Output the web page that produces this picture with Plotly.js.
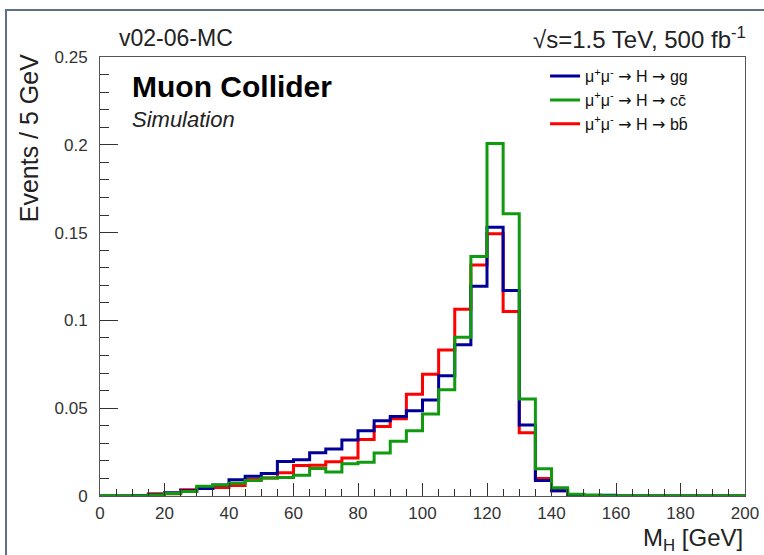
<!DOCTYPE html>
<html>
<head>
<meta charset="utf-8">
<script src="https://cdn.plot.ly/plotly-3.0.1.min.js"></script>
<style>
  html, body { margin: 0; padding: 0; background: #ffffff; }
  #chart { width: 764px; height: 555px; position: absolute; left: 0; top: 0; }
  #frame { position: absolute; left: 5px; top: 9px; width: 900px; height: 700px;
           border-left: 2px solid #5f6f86; border-top: 2px solid #5f6f86; pointer-events: none; }
</style>
</head>
<body>
<div id="chart"></div>
<div id="frame"></div>
<script>
// Bin low edges (GeV), 5 GeV bins from 0 to 200
const binLow = [0,5,10,15,20,25,30,35,40,45,50,55,60,65,70,75,80,85,90,95,
                100,105,110,115,120,125,130,135,140,145,150,155,160,165,170,175,180,185,190,195];
const xMax = 200;

// mu+mu- -> H -> gg (blue)
const hGG = [0,0,0.0003,0.0008,0.0018,0.0030,0.0042,0.0063,0.0092,0.0112,
             0.0128,0.0196,0.0206,0.0247,0.0268,0.0319,0.0372,0.0429,0.0453,0.0486,
             0.0547,0.0685,0.0862,0.1195,0.1531,0.1170,0.0405,0.0088,0.0030,0.0005,
             0.0002,0.0004,0,0,0,0,0,0,0,0];
// mu+mu- -> H -> cc (green)
const hCC = [0.0002,0.0002,0.0002,0.0006,0.0014,0.0025,0.0055,0.0063,0.0072,0.0088,
             0.0102,0.0105,0.0118,0.0156,0.0137,0.0183,0.0192,0.0245,0.0312,0.0372,
             0.0467,0.0605,0.0904,0.1364,0.2007,0.1607,0.0552,0.0155,0.0047,0.0010,
             0.0005,0.0002,0.0002,0.0002,0.0002,0.0002,0.0002,0.0002,0.0002,0.0002];
// mu+mu- -> H -> bb (red)
const hBB = [0,0,0,0.0013,0.0013,0.0035,0.0045,0.0048,0.0060,0.0095,
             0.0103,0.0133,0.0173,0.0175,0.0195,0.0216,0.0322,0.0396,0.0440,0.0580,
             0.0694,0.0832,0.1063,0.1315,0.1493,0.1050,0.0360,0.0100,0.0030,0.0005,
             0,0,0,0,0,0,0,0,0,0];

const ARR = "<span style='font-family:DejaVu Sans'>→</span>";
const labels = {
  gg: "μ<sup>+</sup>μ<sup>-</sup> " + ARR + " H " + ARR + " gg",
  cc: "μ<sup>+</sup>μ<sup>-</sup> " + ARR + " H " + ARR + " cc\u0304",
  bb: "μ<sup>+</sup>μ<sup>-</sup> " + ARR + " H " + ARR + " bb\u0304"
};
const colors = { gg: "#000099", cc: "#109a10", bb: "#ff0000" };

function stepTrace(vals, name, color, rank) {
  const xs = binLow.concat([xMax]);
  const ys = vals.concat([vals[vals.length - 1]]);
  return {
    type: "scatter", mode: "lines", x: xs, y: ys, name: name,
    line: { shape: "hv", color: color, width: 3 },
    legendrank: rank, hoverinfo: "skip"
  };
}

const traces = [
  stepTrace(hBB, labels.bb, colors.bb, 3),
  stepTrace(hGG, labels.gg, colors.gg, 1),
  stepTrace(hCC, labels.cc, colors.cc, 2)
];

const FONT = "Liberation Sans, Arial, Helvetica, sans-serif";
const L = 100, R = 19, T = 57, B = 59;

const layout = {
  width: 764, height: 555,
  margin: { l: L, r: R, t: T, b: B, pad: 0 },
  paper_bgcolor: "#ffffff", plot_bgcolor: "#ffffff",
  font: { family: FONT, color: "#222222", size: 17 },
  showlegend: true,
  legend: {
    x: 0.69, y: 0.995, xanchor: "left", yanchor: "top",
    bgcolor: "rgba(0,0,0,0)", borderwidth: 0,
    font: { family: FONT, size: 16, color: "#111111" },
    itemwidth: 30
  },
  xaxis: {
    range: [0, 200], dtick: 20, tick0: 0,
    showgrid: false, zeroline: false,
    showline: true, mirror: true, linecolor: "#555555", linewidth: 1,
    ticks: "inside", ticklen: 13, tickcolor: "#333333", tickwidth: 1,
    minor: { dtick: 5, ticks: "inside", ticklen: 7, tickcolor: "#333333", tickwidth: 1, showgrid: false },
    tickfont: { family: FONT, size: 17, color: "#333333" },
    ticklabelstandoff: 2
  },
  yaxis: {
    range: [0, 0.25], dtick: 0.05, tick0: 0,
    showgrid: false, zeroline: false,
    showline: true, mirror: true, linecolor: "#555555", linewidth: 1,
    ticks: "inside", ticklen: 18, tickcolor: "#333333", tickwidth: 1,
    minor: { dtick: 0.01, ticks: "inside", ticklen: 9, tickcolor: "#333333", tickwidth: 1, showgrid: false },
    tickfont: { family: FONT, size: 17, color: "#333333" },
    ticklabelstandoff: 8
  },
  annotations: [
    { text: "v02-06-MC", xref: "paper", yref: "paper", x: 0.026, y: 1.043,
      xanchor: "left", yanchor: "middle", showarrow: false,
      font: { family: FONT, size: 23, color: "#222222" } },
    { text: "√s=1.5 TeV, 500 fb<sup>-1</sup>", xref: "paper", yref: "paper", x: 1.005, y: 1.043,
      xanchor: "right", yanchor: "middle", showarrow: false,
      font: { family: FONT, size: 24, color: "#222222" } },
    { text: "<b>Muon Collider</b>", xref: "paper", yref: "paper", x: 0.0465, y: 0.932,
      xanchor: "left", yanchor: "middle", showarrow: false,
      font: { family: FONT, size: 30, color: "#000000" } },
    { text: "<i>Simulation</i>", xref: "paper", yref: "paper", x: 0.0465, y: 0.858,
      xanchor: "left", yanchor: "middle", showarrow: false,
      font: { family: FONT, size: 22, color: "#222222" } },
    { text: "M<sub>H</sub> [GeV]", xref: "paper", yref: "paper", x: 1.0, y: -0.1,
      xanchor: "right", yanchor: "middle", showarrow: false,
      font: { family: FONT, size: 24, color: "#222222" } },
    { text: "Events / 5 GeV", xref: "paper", yref: "paper", x: -0.11, y: 0.815,
      xanchor: "center", yanchor: "middle", textangle: -90, showarrow: false,
      font: { family: FONT, size: 25, color: "#222222" } }
  ]
};

Plotly.newPlot("chart", traces, layout, { staticPlot: true, displayModeBar: false });
</script>
</body>
</html>
